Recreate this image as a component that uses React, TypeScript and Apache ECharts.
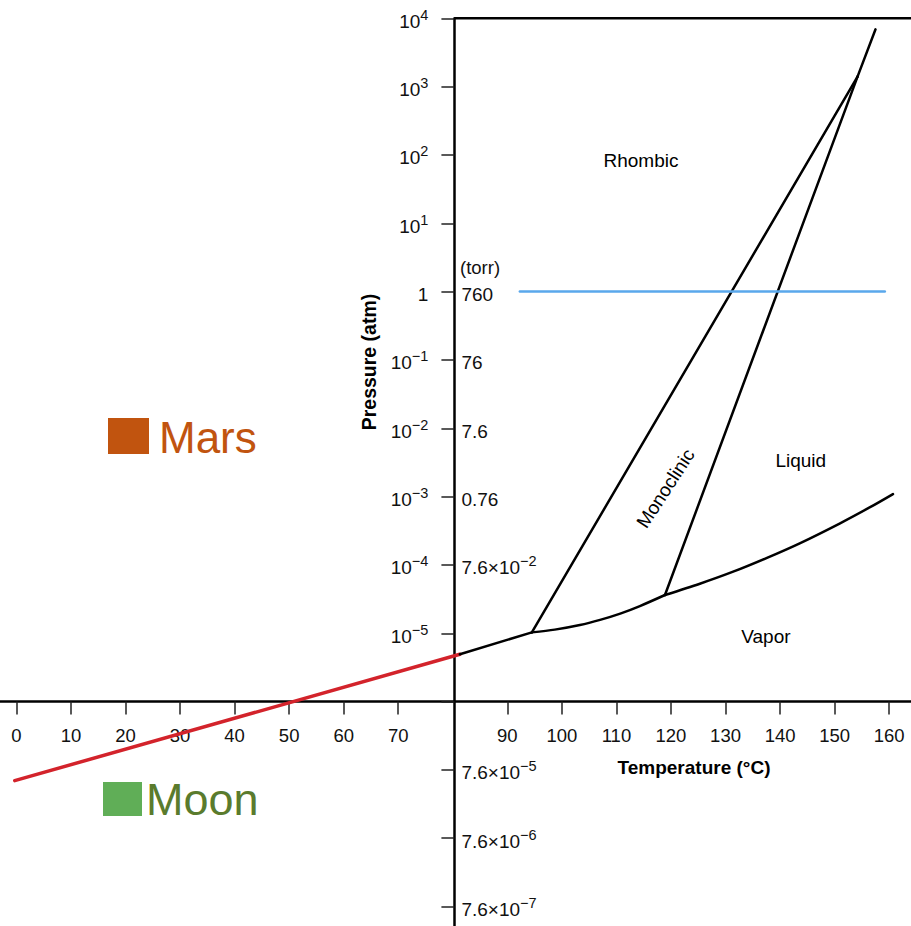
import React, { useEffect, useRef } from "react";
import * as echarts from "echarts";

const W = 911;
const H = 926;
const SANS = '"Liberation Sans", Arial, Helvetica, sans-serif';

// ---- axis definitions ----
const X_MIN = -3;
const X_MAX = 164;
const Y_MIN = 1e-10;
const Y_MAX = 1e4;
const Y_AXIS_AT_T = 80.3; // temperature where the pressure axis crosses
const X_AXIS_AT_P = 1e-6; // pressure where the temperature axis crosses
const xTickValues = [0, 10, 20, 30, 40, 50, 60, 70, 90, 100, 110, 120, 130, 140, 150, 160];
const atmLabelExps = [4, 3, 2, 1, 0, -1, -2, -3, -4, -5];
const torrAtP = [1, 0.1, 0.01, 0.001, 1e-4, 1e-7, 1e-8, 1e-9];
const torrMantissa = ["760", "76", "7.6", "0.76", "7.6", "7.6", "7.6", "7.6"];
const torrExp: (number | null)[] = [null, null, null, null, -2, -5, -6, -7];

// ---- curves (T in °C, P in atm) ----
const redT = [-0.3, 81.3];
const redP = [6.97e-8, 4.92e-6];
const rhombicVaporT = [81.3, 94.5];
const rhombicVaporP = [4.92e-6, 1.03e-5];
const monoVaporT = [94.5, 98.7, 103.3, 107.0, 110.7, 114.3, 118.9];
const monoVaporP = [1.03e-5, 1.13e-5, 1.32e-5, 1.57e-5, 1.94e-5, 2.5e-5, 3.63e-5];
const liquidVaporT = [118.9, 125.3, 131.4, 137.6, 143.7, 151.0, 156.5, 160.7];
const liquidVaporP = [3.63e-5, 5.31e-5, 7.96e-5, 1.27e-4, 2.09e-4, 4.07e-4, 7.0e-4, 1.09e-3];
const rhombicMonoT = [94.5, 154.2];
const rhombicMonoP = [1.03e-5, 1.4e3];
const monoLiquidT = [118.9, 154.2];
const monoLiquidP = [3.63e-5, 1.4e3];
const rhombicLiquidT = [154.2, 157.5];
const rhombicLiquidP = [1.4e3, 6.9e3];
const oneAtmT = [92.3, 159.2];
const oneAtmP = [1, 1];

// ---- region names ----
const regionNames = ["Rhombic", "Monoclinic", "Liquid", "Vapor"];
const regionT = [114.5, 119.0, 143.8, 137.4];
const regionP = [84, 1.32e-3, 3.43e-3, 9.1e-6];
const regionRotate = [0, 57, 0, 0];

const zip = (t: number[], p: number[]) => t.map((v, i) => [v, p[i]]);
const supText = (e: number) => (e < 0 ? "\u2212" + -e : String(e));

const richStyles = {
  b: {
    fontSize: 19,
    fontFamily: SANS,
    color: "#111",
    lineHeight: 28,
    verticalAlign: "middle",
  },
  s: {
    fontSize: 14.5,
    fontFamily: SANS,
    color: "#111",
    lineHeight: 14,
    verticalAlign: "top",
  },
};

function lineSeries(name: string, data: number[][], color: string, width: number, smooth: number | boolean = false) {
  return {
    name,
    type: "line",
    data,
    xAxisIndex: 0,
    yAxisIndex: 0,
    showSymbol: false,
    symbol: "none",
    smooth,
    silent: true,
    lineStyle: { color, width, cap: "round", join: "round" },
    z: 3,
  };
}

function buildOption(xOffset: number, yOffset: number) {
  const yAxisBase = {
    type: "log",
    logBase: 10,
    min: Y_MIN,
    max: Y_MAX,
    interval: 1,
    position: "left",
    offset: yOffset,
    splitLine: { show: false },
    minorTick: { show: false },
  };
  return {
    animation: false,
    backgroundColor: "#fff",
    grid: {
      left: 0,
      right: 0,
      top: 18.3,
      bottom: -48.9,
      containLabel: false,
      outerBoundsMode: "none",
    },
    xAxis: [
      {
        type: "value",
        min: X_MIN,
        max: X_MAX,
        position: "bottom",
        offset: xOffset,
        splitLine: { show: false },
        axisLine: { show: true, onZero: false, lineStyle: { color: "#000", width: 2.5 } },
        axisTick: {
          show: true,
          customValues: xTickValues,
          length: 13,
          lineStyle: { color: "#222", width: 1.5 },
        },
        axisLabel: {
          show: true,
          customValues: xTickValues,
          margin: 24,
          fontSize: 18.5,
          fontFamily: SANS,
          color: "#111",
        },
      },
    ],
    yAxis: [
      {
        ...yAxisBase,
        axisLine: { show: true, onZero: false, lineStyle: { color: "#000", width: 2.5 } },
        axisTick: { show: true, length: 13, lineStyle: { color: "#222", width: 1.5 } },
        axisLabel: {
          show: true,
          margin: 26,
          padding: [6, 0, 0, 0],
          showMinLabel: true,
          showMaxLabel: true,
          formatter: (v: number) => {
            const e = Math.round(Math.log10(v));
            if (!atmLabelExps.includes(e)) return "";
            if (e === 0) return "{b|1}";
            return `{b|10}{s|${supText(e)}}`;
          },
          rich: richStyles,
        },
      },
      {
        ...yAxisBase,
        axisLine: { show: false, onZero: false },
        axisTick: { show: false },
        axisLabel: {
          show: true,
          inside: true,
          margin: 7,
          padding: [6, 0, 0, 0],
          showMinLabel: true,
          showMaxLabel: true,
          formatter: (v: number) => {
            const lv = Math.log10(v);
            const i = torrAtP.findIndex((p) => Math.abs(Math.log10(p) - lv) < 0.01);
            if (i < 0) return "";
            const ex = torrExp[i];
            if (ex === null) return `{b|${torrMantissa[i]}}`;
            return `{b|${torrMantissa[i]}\u00D710}{s|${supText(ex)}}`;
          },
          rich: richStyles,
        },
      },
    ],
    series: [
      lineSeries("sublimation (extrapolated)", zip(redT, redP), "#d3232b", 3.5),
      lineSeries("rhombic–vapor", zip(rhombicVaporT, rhombicVaporP), "#000", 2.5),
      lineSeries("monoclinic–vapor", zip(monoVaporT, monoVaporP), "#000", 2.5, 0.3),
      lineSeries("liquid–vapor", zip(liquidVaporT, liquidVaporP), "#000", 2.5, 0.3),
      lineSeries("rhombic–monoclinic", zip(rhombicMonoT, rhombicMonoP), "#000", 2.5),
      lineSeries("monoclinic–liquid", zip(monoLiquidT, monoLiquidP), "#000", 2.5),
      lineSeries("rhombic–liquid", zip(rhombicLiquidT, rhombicLiquidP), "#000", 2.5),
      lineSeries("1 atm", zip(oneAtmT, oneAtmP), "#5aa8ec", 2.5),
      {
        ...lineSeries("frame", [
          [Y_AXIS_AT_T, Y_MAX],
          [X_MAX, Y_MAX],
        ], "#000", 2.5),
        lineStyle: { color: "#000", width: 2.5, cap: "butt" },
      },
      {
        name: "regions",
        type: "scatter",
        silent: true,
        symbolSize: 1,
        itemStyle: { color: "rgba(255,255,255,0)" },
        z: 4,
        data: regionNames.map((n, i) => ({
          value: [regionT[i], regionP[i]],
          label: {
            show: true,
            formatter: n,
            position: "inside",
            rotate: regionRotate[i],
            align: "center",
            verticalAlign: "middle",
            fontSize: 19,
            fontFamily: SANS,
            color: "#000",
            opacity: 1,
            textBorderWidth: 0,
            textShadowBlur: 0,
          },
        })),
      },
    ],
    graphic: [
      { type: "rect", shape: { x: 108, y: 418, width: 41, height: 36 }, style: { fill: "#c1540f" } },
      {
        type: "text",
        x: 159,
        y: 437,
        style: {
          text: "Mars",
          fill: "#c1540f",
          fontSize: 44,
          fontFamily: SANS,
          verticalAlign: "middle",
          textVerticalAlign: "middle",
        },
      },
      { type: "rect", shape: { x: 103, y: 782, width: 39, height: 34 }, style: { fill: "#60ae57" } },
      {
        type: "text",
        x: 146,
        y: 799,
        style: {
          text: "Moon",
          fill: "#5a7b2d",
          fontSize: 45,
          fontFamily: SANS,
          verticalAlign: "middle",
          textVerticalAlign: "middle",
        },
      },
      {
        type: "text",
        x: 694,
        y: 767,
        style: {
          text: "Temperature (\u00B0C)",
          fill: "#000",
          fontSize: 19,
          fontWeight: "bold",
          fontFamily: SANS,
          align: "center",
          textAlign: "center",
          verticalAlign: "middle",
          textVerticalAlign: "middle",
        },
      },
      {
        type: "text",
        x: 369,
        y: 362,
        rotation: Math.PI / 2,
        style: {
          text: "Pressure (atm)",
          fill: "#000",
          fontSize: 19.5,
          fontWeight: "bold",
          fontFamily: SANS,
          align: "center",
          textAlign: "center",
          verticalAlign: "middle",
          textVerticalAlign: "middle",
        },
      },
      {
        type: "text",
        x: 460,
        y: 267,
        style: {
          text: "(torr)",
          fill: "#111",
          fontSize: 18.5,
          fontFamily: SANS,
          verticalAlign: "middle",
          textVerticalAlign: "middle",
        },
      },
    ],
  };
}

export default function App() {
  const ref = useRef<HTMLDivElement>(null);
  useEffect(() => {
    if (!ref.current) return;
    const chart = echarts.init(ref.current, null, { renderer: "svg", width: W, height: H });
    chart.setOption(buildOption(0, 0) as any);
    const cross = chart.convertToPixel({ gridIndex: 0 }, [Y_AXIS_AT_T, X_AXIS_AT_P]) as number[];
    const gridBottomEdge = H + 48.9;
    const xOffset = cross[1] - gridBottomEdge;
    const yOffset = -cross[0];
    chart.setOption(buildOption(xOffset, yOffset) as any, true);
    return () => chart.dispose();
  }, []);
  return (
    <div
      ref={ref}
      style={{ position: "absolute", left: 0, top: 0, width: W, height: H, background: "#fff" }}
    />
  );
}
